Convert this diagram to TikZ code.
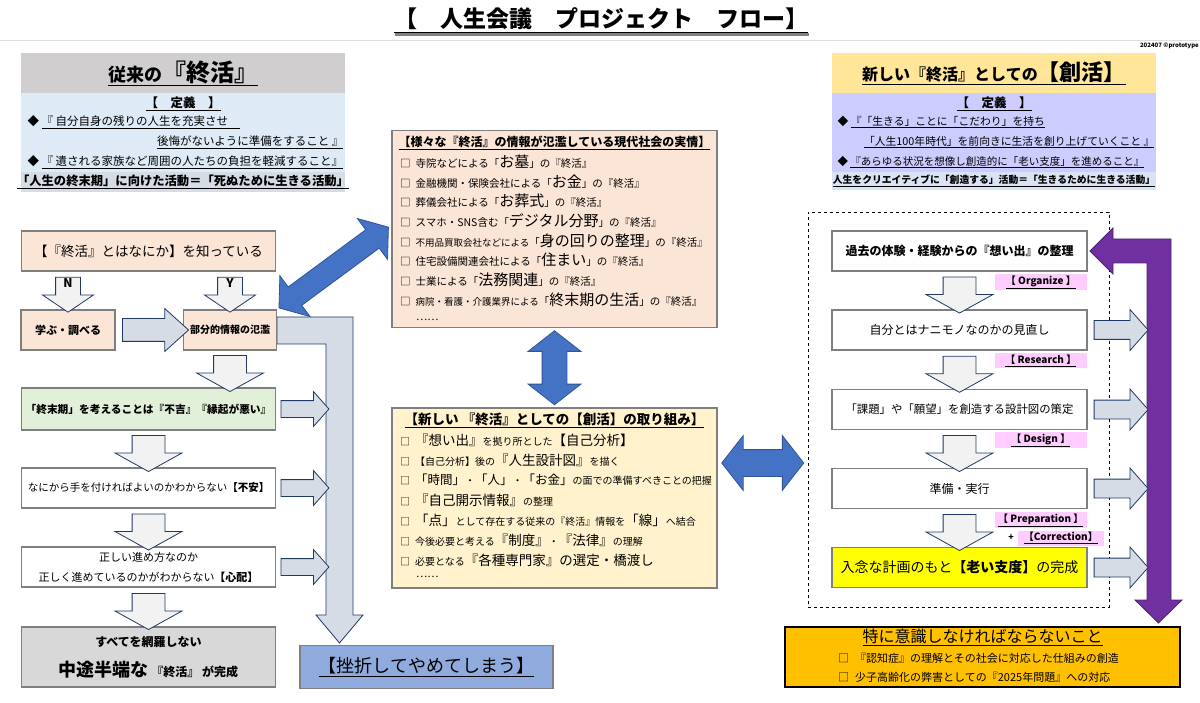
\documentclass[tikz,border=0pt]{standalone}
\usepackage{fontspec}
\setmainfont{Noto Sans CJK JP}
\usetikzlibrary{shapes.arrows,calc}

\definecolor{boxgray}{HTML}{7F7F7F}
\definecolor{peach}{HTML}{FBE5D6}
\definecolor{paleyel}{HTML}{FFF2CC}
\definecolor{palegreen}{HTML}{E2F0D9}
\definecolor{hdgray}{HTML}{D0CECE}
\definecolor{defblue}{HTML}{DEEBF7}
\definecolor{stripblue}{HTML}{D6DCE5}
\definecolor{hdyellow}{HTML}{FFE699}
\definecolor{deflav}{HTML}{CCCCFF}
\definecolor{striplav}{HTML}{DAE3F3}
\definecolor{navyline}{HTML}{203864}
\definecolor{arrowpale}{HTML}{F2F2F2}
\definecolor{arrowblue}{HTML}{D6DCE5}
\definecolor{bluefill}{HTML}{4472C4}
\definecolor{blueline}{HTML}{2F5597}
\definecolor{stopblue}{HTML}{8FAADC}
\definecolor{purplefill}{HTML}{7030A0}
\definecolor{pinktag}{HTML}{FFCCFF}
\definecolor{orangebox}{HTML}{FFC000}
\definecolor{goalyellow}{HTML}{FFFF00}

\newcommand\setsz[1]{\fontsize{#1}{#1}\selectfont}
\newcommand\kw[1]{{\setsz{15}#1}}
\newcommand\kv[1]{{\setsz{13.5}#1}}
\newcommand\kt[1]{{\setsz{12.5}#1}}
\newcommand\sm[1]{{\setsz{9.5}#1}}

\begin{document}
\begin{tikzpicture}[x=1pt, y=-1pt,
  flowbox/.style={draw=boxgray, line width=1.8pt, inner sep=2pt, align=center, minimum height=40},
  panel/.style={inner sep=0pt, minimum width=324},
  dnarrow/.style={single arrow, rotate=-90, draw=navyline, fill=arrowpale, line width=0.8pt, inner xsep=0pt, inner ysep=16pt, minimum height=36, single arrow head extend=17, single arrow tip angle=122},
  ynarrow/.style={dnarrow, minimum height=35, inner ysep=12pt, single arrow head extend=13, single arrow tip angle=112},
  rtarrow/.style={single arrow, draw=navyline, fill=arrowblue, line width=0.8pt, inner xsep=0pt, inner ysep=8pt, minimum height=48, single arrow head extend=9, single arrow tip angle=97},
  bluearrow/.style={double arrow, draw=blueline, fill=bluefill, line width=0.8pt, inner xsep=0pt, inner ysep=12pt, double arrow head extend=14, double arrow tip angle=104},
  steptag/.style={fill=pinktag, font=\setsz{10}\bfseries, inner sep=1.5pt, minimum height=15, minimum width=92, anchor=east},
  listitem/.style={anchor=west, inner sep=0pt, font=\setsz{10.5}},
]
\useasboundingbox (0,0) rectangle (1200,703);

% title
\node (title) at (601,19) [inner sep=0pt, font=\setsz{23}\bfseries] {【　人生会議　プロジェクト　フロー】};
\draw[gray, line width=3pt] ($(title.south west)+(1,4)$) -- ($(title.south east)+(1,4)$);
\draw[line width=1.5pt] ($(title.south west)+(0,2)$) -- ($(title.south east)+(0,2)$);
\draw[gray!25] (0,40) -- (1200,40);
\node (stamp) at (1199,46) [anchor=east, inner sep=0pt, font=\setsz{6}\bfseries] {202407 ©prototype};

% old shukatsu
\node (oldhead) at (183,73) [panel, fill=hdgray, minimum height=40] {\setsz{18}\bfseries\underline{従来の{\setsz{24}『終活』}}};
\node (olddef) at (183,132.5) [panel, fill=defblue, minimum height=79] {};
\node (oldstrip) at (183,182) [panel, fill=stripblue, minimum height=20] {};
\node (oldtag) at (183,104) [font=\setsz{12.5}\bfseries] {\underline{【　定義　】}};
\node (old1) at (24,122) [anchor=west, font=\setsz{11.5}] {◆ \underline{『 自分自身の残りの人生を充実させ　}};
\node (old2) at (347,142) [anchor=east, font=\setsz{11.5}] {\underline{後悔がないように準備をすること 』}};
\node (old3) at (24,162) [anchor=west, font=\setsz{11.5}] {◆ \underline{『 遺される家族など周囲の人たちの負担を軽減すること』}};
\node (oldmotto) at (183,182) [font=\setsz{12.3}\bfseries] {\underline{「人生の終末期」に向けた活動＝「死ぬために生きる活動」}};

% new shukatsu
\node (newhead) at (994,73) [panel, fill=hdyellow, minimum height=40] {\setsz{16}\bfseries\underline{新しい『終活』としての{\setsz{22}【創活】}}};
\node (newdef) at (994,132.5) [panel, fill=deflav, minimum height=79] {};
\node (newstrip) at (994,181) [panel, fill=striplav, minimum height=18] {};
\node (newtag) at (994,104) [font=\setsz{12.5}\bfseries] {\underline{【　定義　】}};
\node (new1) at (834,122) [anchor=west, font=\setsz{10.8}] {◆ \underline{『「生きる」ことに「こだわり」を持ち}};
\node (new2) at (1158,142) [anchor=east, font=\setsz{10.8}] {\underline{「人生100年時代」を前向きに生活を創り上げていくこと 』}};
\node (new3) at (834,162) [anchor=west, font=\setsz{10.5}] {◆ \underline{『あらゆる状況を想像し創造的に「老い支度」を進めること』}};
\node (newmotto) at (994,181) [font=\setsz{9.8}\bfseries] {\underline{人生をクリエイティブに「創造する」活動＝「生きるために生きる活動」}};

% left flow
\draw[draw=navyline, fill=arrowblue, line width=0.8pt] (277,317) -- (353,317) -- (353,615) -- (363,615) -- (339.5,643) -- (316,615) -- (326,615) -- (326,344) -- (277,344) -- cycle;
\coordinate (gshaft) at (326,0);
\node (know) at (148.5,251) [flowbox, fill=peach, minimum width=254, font=\setsz{13.5}] {【『終活』とはなにか】を知っている};
\node (learn) at (68,330) [flowbox, fill=peach, minimum width=94, font=\setsz{11}\bfseries] {学ぶ・調べる};
\node (flood) at (230,330) [flowbox, fill=peach, minimum width=93, font=\setsz{10}\bfseries] {部分的情報の氾濫};
\node (taboo) at (148.5,409) [flowbox, fill=palegreen, minimum width=254, minimum height=42, font=\setsz{10.7}\bfseries] {「終末期」を考えることは『不吉』『縁起が悪い』};
\node (anxiety) at (148.5,488) [flowbox, fill=white, minimum width=254, font=\setsz{10.5}] {なにから手を付ければよいのかわからない{\bfseries【不安】}};
\node (worry) at (148.5,567) [flowbox, fill=white, minimum width=254, font=\fontsize{11}{20}\selectfont] {正しい進め方なのか\\正しく進めているのかがわからない{\bfseries【心配】}};
\node (halfway) at (148.5,657) [flowbox, fill=hdgray!80, minimum width=254, minimum height=60, font=\fontsize{12}{30}\selectfont\bfseries] {すべてを網羅しない\\{\setsz{18}中途半端な} 『終活』 が完成};
\node (quit) at (426.5,667) [flowbox, fill=stopblue, minimum width=253, minimum height=43, font=\setsz{18}] {\underline{【挫折してやめてしまう】}};

\path (know.south -| learn) -- (learn.north) node[midway, ynarrow] (narrow) {};
\path (know.south -| flood) -- (flood.north) node[midway, ynarrow] (yarrow) {};
\node (nlabel) at ($(narrow)+(0,-7)$) [font=\setsz{12}\bfseries] {N};
\node (ylabel) at ($(yarrow)+(0,-7)$) [font=\setsz{12}\bfseries] {Y};
\path (learn) -- (flood) node[midway, rtarrow, minimum height=66, inner ysep=11pt, single arrow head extend=10, single arrow tip angle=84] {};
\path (flood.south) -- (flood.south |- taboo.north) node[midway, dnarrow] {};
\path (taboo) -- (anxiety) node[midway, dnarrow] {};
\path (anxiety) -- (worry) node[midway, dnarrow] {};
\path (worry) -- (halfway.north) node[midway, dnarrow] {};
\foreach \n in {taboo, anxiety, worry}
  \path (\n.east) -- (\n.east -| gshaft) node[midway, rtarrow] {};

% center
\node (info) at (554.5,229) [flowbox, fill=peach, minimum width=325, minimum height=197] {};
\node (infotitle) at (554.5,143) [inner sep=0pt, font=\setsz{12}\bfseries] {\underline{【様々な『終活』の情報が氾濫している現代社会の実情】}};
\foreach \txt [count=\i] in {
  寺院などによる「\kw{お墓}」の『終活』,
  金融機関・保険会社による「\kw{お金}」の『終活』,
  葬儀会社による「\kw{お葬式}」の『終活』,
  スマホ・SNS含む「\kw{デジタル分野}」の『終活』,
  \sm{不用品買取会社などによる}「\kw{身の回りの整理}」の『終活』,
  住宅設備関連会社による「\kw{住まい}」の『終活』,
  士業による「\kw{法務関連}」の『終活』,
  \sm{病院・看護・介護業界による}「\kw{終末期の生活}」の『終活』}{
  \node (info\i) [listitem] at (400,142+19.7*\i) {□\hspace{5pt}\txt};
}
\node (infomore) [listitem] at (416,320) {……};

\node (plan) at (554.5,498) [flowbox, fill=paleyel, minimum width=325, minimum height=180] {};
\node (plantitle) at (554.5,420) [inner sep=0pt, font=\setsz{13.5}\bfseries] {\underline{【新しい 『終活』としての【創活】の取り組み】}};
\foreach \txt [count=\i] in {
  \kv{『想い出』}を拠り所とした\kv{【自己分析】},
  【自己分析】後の\kv{『人生設計図』}を描く,
  \kt{「時間」}・\kt{「人」}・\kt{「お金」}の面での準備すべきことの把握,
  \kv{『自己開示情報』}の整理,
  \kv{「点」}として存在する従来の『終活』情報を\kv{「線」}へ結合,
  今後必要と考える\kv{『制度』}・\kv{『法律』}の理解,
  必要となる\kv{『各種専門家』の選定・橋渡し}}{
  \node (plan\i) [listitem, font=\setsz{10}] at (400,420+20*\i) {□\hspace{5pt}\txt};
}
\node (planmore) [listitem] at (416,577) {……};

% right flow
\node (dash) at (958.5,409.5) [draw, dashed, line width=0.8pt, minimum width=301, minimum height=395] {};
\draw[draw=purplefill!70!black, fill=purplefill, line width=0.8pt] (1090,251) -- (1113,228) -- (1113,239) -- (1171,239) -- (1171,600) -- (1182,600) -- (1158.5,623) -- (1135,600) -- (1147,600) -- (1147,263) -- (1113,263) -- (1113,274) -- cycle;
\coordinate (pshaft) at (1146,0);
\node (memory) at (959.5,251) [flowbox, fill=white, minimum width=255, font=\setsz{12}\bfseries] {過去の体験・経験からの『想い出』の整理};
\node (self) at (959.5,330) [flowbox, fill=white, minimum width=255, font=\setsz{12}] {自分とはナニモノなのかの見直し};
\node (blueprint) at (959.5,409.5) [flowbox, fill=white, minimum width=255, font=\setsz{11.4}] {「課題」や「願望」を創造する設計図の策定};
\node (execute) at (959.5,488.5) [flowbox, fill=white, minimum width=255, font=\setsz{12}] {準備・実行};
\node (ready) at (959.5,567.5) [flowbox, fill=goalyellow, minimum width=255, font=\setsz{14}] {入念な計画のもと{\bfseries【老い支度】}の完成};

\path (memory) -- (self) node[midway, dnarrow] {};
\path (self) -- (blueprint) node[midway, dnarrow] {};
\path (blueprint) -- (execute) node[midway, dnarrow] {};
\path (execute) -- (ready) node[midway, dnarrow] {};
\foreach \n in {self, blueprint, execute, ready}
  \path (\n.east) -- (\n.east -| pshaft) node[midway, rtarrow, minimum height=54, inner ysep=9pt, single arrow head extend=11] {};

\node (tagorg) at (1087,282) [steptag] {\underline{【 Organize 】}};
\node (tagres) at (1087,361) [steptag] {\underline{【 Research 】}};
\node (tagdes) at (1087,440) [steptag] {\underline{【 Design 】}};
\node (tagprep) at (1087,520) [steptag] {\underline{【 Preparation 】}};
\node (tagcor) at (1104,538) [steptag, minimum width=86] {\underline{【Correction】}};
\node (plus) at (1011,538) [font=\setsz{9}\bfseries] {+};

% blue links
\coordinate (infoleft) at (390,226);
\path (flood.north east) -- (infoleft) node[midway, sloped, bluearrow, minimum height=136, inner ysep=11pt] {};
\path (info.south) -- (plan.north) node[midway, bluearrow, rotate=90, minimum height=74] {};
\path ([yshift=35pt]plan.east) -- ([yshift=35pt]plan.east -| dash.west) node[midway, bluearrow, minimum height=82, inner ysep=13pt] {};

% caution
\node (caution) at (982.5,657) [draw=black, line width=2pt, fill=orangebox, minimum width=395, minimum height=60] {};
\node (cautiontitle) at (982.5,637) [inner sep=0pt, font=\setsz{16}] {\underline{特に意識しなければならないこと}};
\node (caution1) [listitem, font=\setsz{11}] at (838,658) {□\hspace{6pt}『認知症』の理解とその社会に対応した仕組みの創造};
\node (caution2) [listitem, font=\setsz{11}] at (838,677) {□\hspace{6pt}少子高齢化の弊害としての『2025年問題』への対応};
\end{tikzpicture}
\end{document}
